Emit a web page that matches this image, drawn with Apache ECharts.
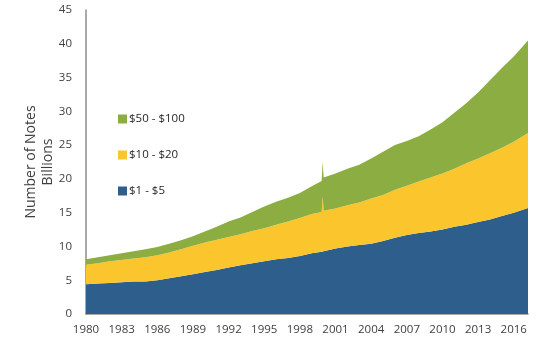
<!DOCTYPE html>
<html>
<head>
<meta charset="utf-8">
<script src="https://cdn.jsdelivr.net/npm/echarts@6/dist/echarts.min.js"></script>
<style>
html,body{margin:0;padding:0;background:#fff;}
#chart{width:550px;height:345px;}
</style>
</head>
<body>
<div id="chart"></div>
<script>
// x positions (fractional years)
var years = [1980,1981,1982,1983,1984,1985,1986,1987,1988,1989,1990,1991,1992,1993,1994,1995,1996,1997,1998,1999,1999.83,1999.92,2000,2001,2002,2003,2004,2005,2006,2007,2008,2009,2010,2011,2012,2013,2014,2015,2016,2017.2];
// Billions of notes
var small = [4.4,4.5,4.6,4.7,4.8,4.8,5.0,5.3,5.6,5.9,6.2,6.5,6.9,7.2,7.5,7.8,8.1,8.3,8.6,9.0,9.2,9.2,9.3,9.7,10.0,10.2,10.4,10.8,11.3,11.7,12.0,12.2,12.5,12.9,13.2,13.6,14.0,14.5,15.0,15.7];
var mid = [2.9,3.0,3.2,3.3,3.4,3.6,3.7,3.8,4.0,4.2,4.4,4.5,4.5,4.6,4.8,4.9,5.1,5.4,5.6,5.8,5.9,8.2,6.0,5.9,6.1,6.3,6.7,6.8,7.1,7.3,7.6,8.0,8.3,8.6,9.1,9.4,9.8,10.1,10.5,11.1];
var large = [0.8,0.9,0.9,1.0,1.1,1.2,1.2,1.3,1.3,1.4,1.6,1.9,2.3,2.5,2.8,3.2,3.4,3.5,3.7,4.1,4.6,5.1,4.9,5.2,5.4,5.6,5.9,6.4,6.6,6.6,6.7,7.1,7.6,8.3,8.9,9.8,10.8,11.8,12.6,13.7];
var seriesNames = ['$1 - $5', '$10 - $20', '$50 - $100'];
var seriesValues = [small, mid, large];
var colors = ['#2E5E8C', '#FBC52D', '#8BAD42'];

var chart = echarts.init(document.getElementById('chart'));
var font = 'Open Sans';
var series = seriesNames.map(function (name, k) {
  return {
    name: name,
    type: 'line',
    stack: 'total',
    showSymbol: false,
    symbol: 'none',
    // value first so the stack applies to the value dimension
    encode: { x: 1, y: 0 },
    lineStyle: { width: 0 },
    areaStyle: { color: colors[k], opacity: 1 },
    itemStyle: { color: colors[k] },
    data: years.map(function (x, i) { return [seriesValues[k][i], x]; })
  };
});
chart.setOption({
  animation: false,
  grid: { left: 86, right: 22, top: 10, bottom: 31 },
  legend: {
    orient: 'vertical',
    left: 113,
    top: 108,
    itemGap: 24,
    itemWidth: 9,
    itemHeight: 9,
    icon: 'rect',
    data: ['$50 - $100', '$10 - $20', '$1 - $5'],
    textStyle: { fontFamily: font, fontSize: 11.5, color: '#262626', padding: [0, 0, 0, -3] }
  },
  xAxis: {
    type: 'value',
    min: 1980,
    max: 2017.2,
    interval: 3,
    splitLine: { show: false },
    axisTick: { show: false },
    axisLine: { lineStyle: { color: '#8c8c8c', width: 1.5 } },
    axisLabel: {
      showMaxLabel: false,
      color: '#404040',
      fontFamily: font,
      fontSize: 11.5,
      margin: 10,
      formatter: function (v) { return String(Math.round(v)); }
    }
  },
  yAxis: {
    type: 'value',
    min: 0,
    max: 45,
    interval: 5,
    name: 'Number of Notes\nBillions',
    nameLocation: 'middle',
    nameRotate: 90,
    nameGap: 29,
    nameMoveOverlap: false,
    nameTextStyle: { fontFamily: font, fontSize: 14, color: '#404040', lineHeight: 17 },
    splitLine: { show: false },
    axisTick: { show: false },
    axisLine: { show: true, lineStyle: { color: '#8c8c8c', width: 1.5 } },
    axisLabel: { color: '#404040', fontFamily: font, fontSize: 11.5, margin: 14 }
  },
  series: series
});
</script>
</body>
</html>
